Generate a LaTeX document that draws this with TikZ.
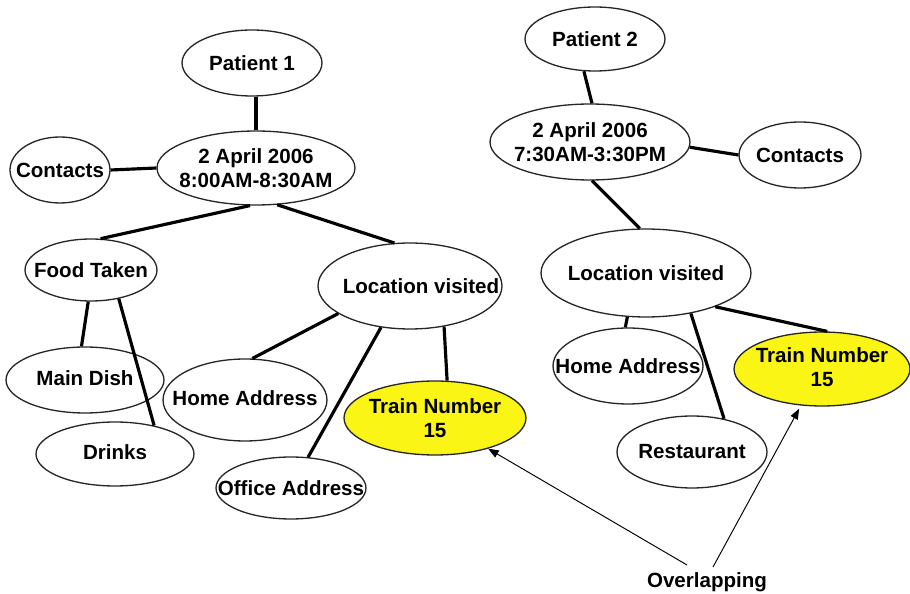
\documentclass[tikz,border=0pt]{standalone}
\usepackage{fontspec}
\setmainfont{Liberation Sans}
\usetikzlibrary{shapes.geometric,arrows.meta}
\definecolor{hilite}{RGB}{250,245,20}
\tikzset{
  bubble/.style={ellipse, draw=black!85, line width=0.75pt, fill=white, inner sep=0pt},
  hot/.style={fill=hilite},
  tag/.style={font=\fontsize{11.7}{13.6}\selectfont\bfseries, align=center, inner sep=0pt},
  link/.style={line width=1.8pt, black},
  pointer/.style={line width=0.55pt, black, -{Triangle[length=6pt,width=4.5pt]}},
}
\begin{document}
\begin{tikzpicture}[x=0.02cm,y=-0.02cm]
\useasboundingbox (0,0) rectangle (910,594);

% ---- Patient 1 ----
\node[bubble, minimum width=2.80cm, minimum height=1.32cm, label={[tag]center:Patient 1}] (p1) at (252,63) {};
\node[bubble, minimum width=3.96cm, minimum height=1.48cm, label={[tag]center:{2 April 2006\\8:00AM-8:30AM}}] (d1) at (256,168) {};
\node[bubble, minimum width=2.00cm, minimum height=1.32cm, label={[tag]center:Contacts}] (c1) at (60,170) {};
\node[bubble, minimum width=2.64cm, minimum height=1.24cm, label={[tag]center:Food Taken}] (food) at (91,270) {};
\node[bubble, minimum width=3.68cm, minimum height=1.72cm, label={[tag,xshift=0.22cm]center:Location visited}] (loc1) at (410,286) {};
\node[bubble, minimum width=3.16cm, minimum height=1.32cm, label={[tag,yshift=0.04cm]center:Main Dish}] (dish) at (85,380) {};
\node[bubble, minimum width=3.16cm, minimum height=1.28cm, label={[tag,yshift=0.04cm]center:Drinks}] (drink) at (115,454) {};
\node[bubble, minimum width=3.28cm, minimum height=1.64cm, label={[tag,yshift=0.04cm]center:Home Address}] (home1) at (245,400) {};
\node[bubble, minimum width=3.00cm, minimum height=1.24cm, label={[tag]center:Office Address}] (office) at (291,488) {};
\node[bubble, hot, minimum width=3.64cm, minimum height=1.48cm, label={[tag]center:{Train Number\\15}}] (train1) at (435,418) {};

% ---- Patient 2 ----
\node[bubble, minimum width=2.80cm, minimum height=1.28cm, label={[tag]center:Patient 2}] (p2) at (595,39) {};
\node[bubble, minimum width=4.00cm, minimum height=1.52cm, label={[tag]center:{2 April 2006\\7:30AM-3:30PM}}] (d2) at (590,142) {};
\node[bubble, minimum width=2.44cm, minimum height=1.32cm, label={[tag]center:Contacts}] (c2) at (800,155) {};
\node[bubble, minimum width=4.20cm, minimum height=1.76cm, label={[tag]center:Location visited}] (loc2) at (646,273) {};
\node[bubble, minimum width=3.00cm, minimum height=1.52cm, label={[tag]center:Home Address}] (home2) at (628,366) {};
\node[bubble, hot, minimum width=3.52cm, minimum height=1.48cm, label={[tag,yshift=0.04cm]center:{Train Number\\15}}] (train2) at (822,369) {};
\node[bubble, minimum width=3.00cm, minimum height=1.44cm, label={[tag]center:Restaurant}] (rest) at (692,452) {};

% ---- links of patient 1 ----
\draw[link] (p1.south -| d1.north) -- (d1.north);
\draw[link] (c1.east) -- (d1.west);
\draw[link] (d1.261) -- (food.73);
\draw[link] (d1.300) -- (loc1.110);
\draw[link] (food.265) -- (dish.96);
\draw[link] (food.314) -- (drink.36);
\draw[link] (loc1.201) -- (home1.80);
\draw[link] (loc1.235) -- (office.61);
\draw[link] (loc1.310) -- (train1.72);

% ---- links of patient 2 ----
\draw[link] (p2.251) -- (d2.87);
\draw[link] (d2.357) -- (c2.west);
\draw[link] (d2.273) -- (loc2.98);
\draw[link] (loc2.247) -- (home2.94);
\draw[link] (loc2.318) -- (rest.46);
\draw[link] (loc2.334) -- (train2.82);

% ---- overlap callout ----
\node[tag] (ov) at (707,582) {Overlapping};
\coordinate (ovl) at (687,565);
\coordinate (ovr) at (713,567);
\draw[pointer] (ovl) -- (train1.330);
\draw[pointer, shorten >=2pt] (ovr) -- (train2.240);
\end{tikzpicture}
\end{document}
